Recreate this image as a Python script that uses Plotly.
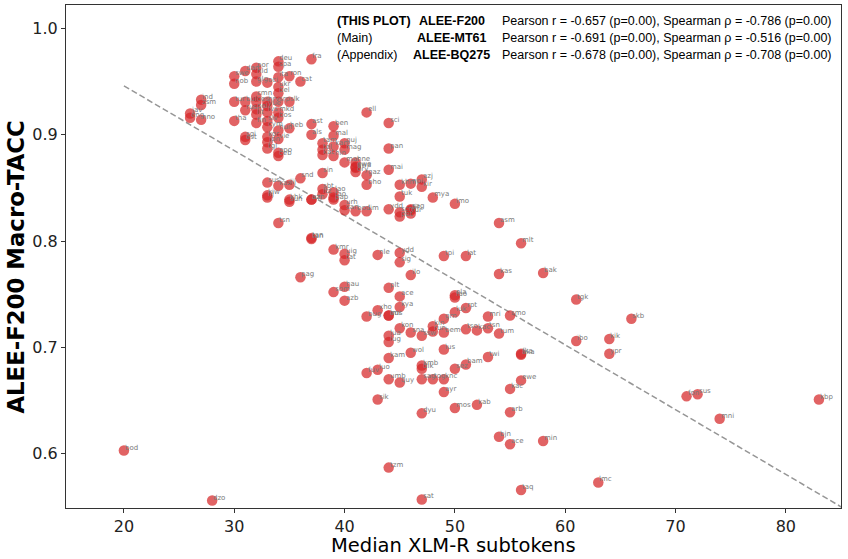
import plotly.graph_objects as go

# ---------------- data ----------------
langs = [
 "deu","spa","fra","dan","por","nld","swe","nob","glg","oci","ita","ron","cat","ukr","bel",
 "ind","zsm","jav","eng","nno","tur","bul","ces","hrv","srp","slk","rus","pol","lit","lvs",
 "mkd","bos","slv","fin","tha","cym","hun","heb","sqi","est","kor","jpn","vie","tgl","epo",
 "ceb","ast","ben","als","mal","tam","guj","tel","kat","kan","hin","mag","mar","hne","awa",
 "ory","ell","sci","pan","mai","bho","khm","npi","azj","kir","tuk","mya","lmo","sbt","ltz",
 "lao","fao","uzn","urh","san","bod","lim","ydd","scn","fur","sus","kaz","lij","snd","sin",
 "kiw","lij","khk","sun","azj","pap","tsn","tan","tan","kmr","uig","tat","nle","ydd","sig",
 "ilo","tpi","lat","pag","hau","som","azb","plt","ace","kya","xho","bug","lmi","ola","fao",
 "grn","luk","rpt","kas","bak","mri","smo","tgk","ibo","kon","lua","lug","sna","ssw","kin",
 "run","bem","tso","kac","tsn","tum","wol","lus","twi","fka","aka","kam","fuv","luo","kmb",
 "dik","umb","quy","sag","tog","knc","sez","bam","ewe","kac","ayr","sik","dyu","mos","kab",
 "arb","bjn","ace","min","tzm","taq","sat","dzo","bod","lmc","asm","mlt","skb","kik","ypr",
 "fon","sus","kbp","mni","eus","sag","pbt","tir","yue","cmn","ewe","gaz",
]
subtokens = [
 34,34,37,31,32,32,30,30,32,33,34,35,36,34,34,
 27,27,26,26,27,30,31,32,33,34,35,31,32,32,33,
 34,34,33,32,30,33,34,35,31,31,33,33,34,33,34,
 34,37,39,37,39,38,40,38,38,39,39,40,40,41,41,
 41,42,44,44,44,42,45,46,47,47,45,48,50,38,38,
 39,39,37,40,40,41,42,44,45,46,33,34,35,36,38,
 33,33,35,35,37,39,34,37,37,39,40,40,43,45,45,
 46,49,51,36,40,39,40,44,45,45,43,42,44,50,50,
 49,50,51,54,58,53,55,61,61,45,44,44,46,47,48,
 48,49,51,52,53,54,46,49,53,56,56,44,42,43,47,
 47,44,45,47,48,49,50,51,56,55,49,43,47,50,52,
 55,54,55,58,44,56,47,28,20,63,54,56,66,64,64,
 71,72,83,74,44,46,45,46,33,32,41,42,
]
tacc = [
 0.969,0.964,0.971,0.960,0.963,0.957,0.955,0.948,0.950,0.949,0.954,0.955,0.950,0.945,0.939,
 0.933,0.928,0.920,0.916,0.914,0.931,0.931,0.931,0.931,0.931,0.931,0.923,0.924,0.919,0.921,
 0.921,0.916,0.913,0.911,0.913,0.907,0.904,0.906,0.898,0.895,0.898,0.893,0.896,0.887,0.883,
 0.880,0.910,0.908,0.900,0.899,0.892,0.892,0.886,0.881,0.889,0.880,0.886,0.874,0.874,0.869,
 0.865,0.921,0.911,0.887,0.867,0.853,0.853,0.854,0.858,0.851,0.842,0.841,0.835,0.849,0.844,
 0.846,0.841,0.839,0.834,0.829,0.828,0.828,0.830,0.827,0.826,0.855,0.852,0.853,0.859,0.864,
 0.843,0.841,0.839,0.837,0.839,0.839,0.817,0.803,0.802,0.792,0.788,0.782,0.787,0.789,0.780,
 0.768,0.786,0.786,0.766,0.757,0.752,0.744,0.756,0.748,0.738,0.735,0.729,0.730,0.749,0.747,
 0.727,0.733,0.737,0.769,0.770,0.729,0.730,0.745,0.706,0.718,0.711,0.705,0.714,0.711,0.720,
 0.715,0.714,0.717,0.716,0.718,0.713,0.695,0.698,0.691,0.694,0.693,0.690,0.676,0.679,0.683,
 0.680,0.670,0.667,0.670,0.670,0.670,0.680,0.684,0.669,0.661,0.658,0.651,0.638,0.643,0.646,
 0.639,0.616,0.609,0.612,0.587,0.566,0.557,0.556,0.603,0.573,0.817,0.798,0.727,0.708,0.694,
 0.654,0.656,0.651,0.633,0.730,0.830,0.823,0.829,0.927,0.936,0.870,0.862,
]

# regression line
fit_x = [20, 86]
fit_intercept = 0.946   # value at x = 20
fit_slope = -0.00609
fit_y = [fit_intercept + fit_slope * (x - fit_x[0]) for x in fit_x]

stat_tags = ["(THIS PLOT)", "(Main)", "(Appendix)"]
stat_models = ["ALEE-F200", "ALEE-MT61", "ALEE-BQ275"]
stat_text = [
 "Pearson r = -0.657 (p=0.00), Spearman ρ = -0.786 (p=0.00)",
 "Pearson r = -0.691 (p=0.00), Spearman ρ = -0.516 (p=0.00)",
 "Pearson r = -0.678 (p=0.00), Spearman ρ = -0.708 (p=0.00)",
]

# ---------------- figure ----------------
fig = go.Figure()
fig.add_trace(go.Scatter(
    x=fit_x, y=fit_y, mode="lines",
    line=dict(color="rgba(150,150,150,1)", width=1.5, dash="6px,3px"),
    hoverinfo="skip", showlegend=False))
fig.add_trace(go.Scatter(
    x=subtokens, y=tacc, mode="markers",
    marker=dict(size=10.5, color="rgba(214,39,40,0.72)", line=dict(width=0)),
    text=langs, showlegend=False))

annotations = []
for l, xv, yv in zip(langs, subtokens, tacc):
    annotations.append(dict(
        x=xv, y=yv, xref="x", yref="y", text=l, showarrow=False,
        xanchor="left", yanchor="bottom", yshift=-3, xshift=-1,
        font=dict(family="DejaVu Sans", size=7, color="#7a7a7a")))

line_y = [0.968, 0.934, 0.901]
stat_font = "Liberation Sans"
for i in range(3):
    annotations.append(dict(
        x=0.347, y=line_y[i], xref="paper", yref="paper", showarrow=False,
        xanchor="left", yanchor="middle",
        text=("<b>%s</b>" % stat_tags[i]) if i == 0 else stat_tags[i],
        font=dict(family=stat_font, size=12.5, color="black")))
    annotations.append(dict(
        x=0.498, y=line_y[i], xref="paper", yref="paper", showarrow=False,
        xanchor="center", yanchor="middle", text="<b>%s</b>" % stat_models[i],
        font=dict(family=stat_font, size=12.5, color="black")))
    annotations.append(dict(
        x=0.560, y=line_y[i], xref="paper", yref="paper", showarrow=False,
        xanchor="left", yanchor="middle", text=stat_text[i],
        font=dict(family=stat_font, size=12.5, color="black")))

# axis titles
annotations.append(dict(
    x=0.5, y=0, xref="paper", yref="paper", showarrow=False,
    xanchor="center", yanchor="top", yshift=-24,
    text="Median XLM-R subtokens",
    font=dict(family="DejaVu Sans", size=19.5, color="black")))
annotations.append(dict(
    x=0, y=0.478, xref="paper", yref="paper", showarrow=False,
    xanchor="center", yanchor="middle", xshift=-50, textangle=-90,
    text="<b>ALEE-F200 Macro-TACC</b>",
    font=dict(family="DejaVu Sans", size=22.8, color="black")))

axis_common = dict(
    showline=True, mirror=True, linecolor="#333", linewidth=1,
    ticks="outside", ticklen=4, tickcolor="#333", showgrid=False, zeroline=False,
    tickfont=dict(family="DejaVu Sans", size=16, color="#222"))

fig.update_layout(
    width=848, height=559,
    margin=dict(l=66, r=7, t=5, b=51),
    plot_bgcolor="white", paper_bgcolor="white",
    xaxis=dict(range=[14.75, 85.0], tickvals=[20, 30, 40, 50, 60, 70, 80], **axis_common),
    yaxis=dict(range=[0.549, 1.022], tickvals=[0.6, 0.7, 0.8, 0.9, 1.0],
               ticktext=["0.6", "0.7", "0.8", "0.9", "1.0"], **axis_common),
    annotations=annotations,
)

fig.write_html("out.html")
